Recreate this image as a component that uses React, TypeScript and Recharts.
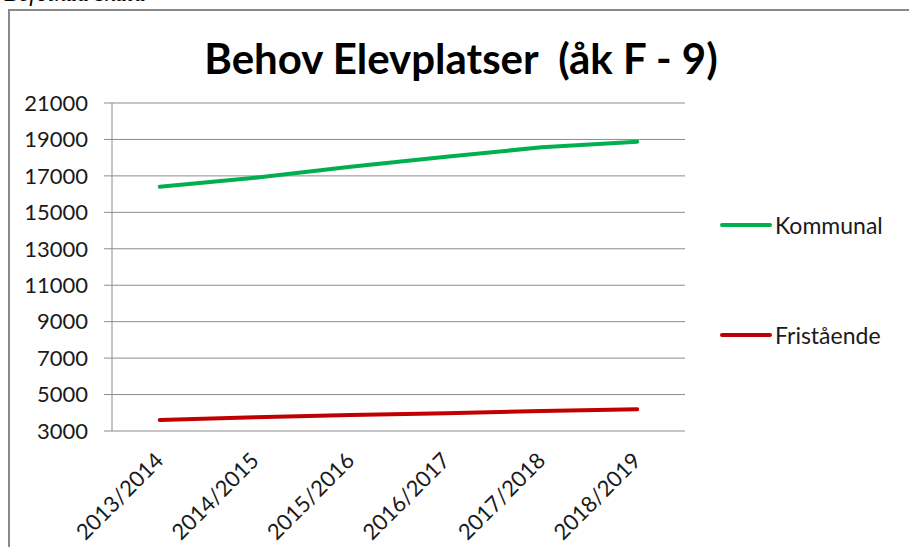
import { LineChart, Line, XAxis, YAxis, CartesianGrid, Legend } from "recharts";

const years = ["2013/2014", "2014/2015", "2015/2016", "2016/2017", "2017/2018", "2018/2019"];
const seriesNames = ["Kommunal", "Fristående"];
const kommunal = [16400, 16900, 17500, 18050, 18570, 18880];
const fristaende = [3600, 3750, 3880, 3980, 4100, 4190];
const yTicks = [3000, 5000, 7000, 9000, 11000, 13000, 15000, 17000, 19000, 21000];
const edgeTicks = [0, 1, 2, 3, 4, 5, 6];

const data = years.map((year, i) => ({
  year,
  Kommunal: kommunal[i],
  Fristående: fristaende[i],
}));

const FONT = "Lato, 'Open Sans', sans-serif";
const GRID = "#8c8c8c";

const YearTick = (props: any) => {
  const { x, y, payload } = props;
  const ax = x + 5;
  const ay = y + 31;
  return (
    <text
      x={ax}
      y={ay}
      transform={`rotate(-45, ${ax}, ${ay})`}
      textAnchor="end"
      fill="#1a1a1a"
      fontSize={22}
      fontFamily={FONT}
    >
      {payload.value}
    </text>
  );
};

const LegendBox = (props: any) => {
  const items = [...(props.payload || [])].sort(
    (a: any, b: any) => seriesNames.indexOf(a.value) - seriesNames.indexOf(b.value)
  );
  return (
    <div>
      {items.map((entry: any) => (
        <div
          key={entry.value}
          style={{ display: "flex", alignItems: "center", height: 30, marginBottom: 80 }}
        >
          <div style={{ width: 52, height: 4, borderRadius: 2, background: entry.color }} />
          <span
            style={{ marginLeft: 3, fontFamily: FONT, fontSize: 23, color: "#1a1a1a", lineHeight: "30px" }}
          >
            {entry.value}
          </span>
        </div>
      ))}
    </div>
  );
};

export default function App() {
  return (
    <div style={{ position: "absolute", left: 0, top: 0, width: 909, height: 547, overflow: "hidden", background: "#fff" }}>
      <div
        style={{
          position: "absolute",
          left: 4,
          top: -20,
          fontFamily: "'Liberation Serif', serif",
          fontStyle: "italic",
          fontSize: 24,
          color: "#000",
          whiteSpace: "pre",
        }}
      >
        Befolkad skala
      </div>
      <div
        style={{
          position: "absolute",
          left: 8,
          top: 9,
          width: 960,
          height: 600,
          border: "2px solid #898989",
          boxSizing: "border-box",
        }}
      />
      <div
        style={{
          position: "absolute",
          left: 0,
          top: 32,
          width: 922,
          textAlign: "center",
          fontFamily: FONT,
          fontWeight: 700,
          fontSize: 42,
          lineHeight: "52px",
          color: "#000",
          whiteSpace: "pre",
        }}
      >
        {"Behov Elevplatser  (åk F - 9)"}
      </div>
      <div style={{ position: "absolute", left: 0, top: 0 }}>
        <LineChart width={909} height={547} data={data} margin={{ top: 103, right: 224, bottom: 0, left: 0 }}>
          <CartesianGrid vertical={false} stroke={GRID} strokeWidth={1} />
          <XAxis
            xAxisId="edge"
            type="number"
            domain={[0, 6]}
            ticks={edgeTicks}
            height={0}
            tick={false}
            tickSize={8}
            stroke={GRID}
            axisLine={{ stroke: GRID }}
            tickLine={{ stroke: GRID }}
          />
          <XAxis
            xAxisId="cat"
            dataKey="year"
            scale="band"
            height={116}
            axisLine={false}
            tickLine={false}
            tickSize={0}
            tickMargin={0}
            interval={0}
            tick={<YearTick />}
          />
          <YAxis
            width={112}
            domain={[3000, 21000]}
            ticks={yTicks}
            interval={0}
            tickSize={8}
            tickMargin={16}
            stroke={GRID}
            tick={{ fill: "#1a1a1a", fontSize: 22, fontFamily: FONT }}
          />
          <Legend
            layout="vertical"
            verticalAlign="middle"
            align="center"
            content={<LegendBox />}
            wrapperStyle={{ left: 720, top: 210, width: 185, height: 150 }}
          />
          <Line
            xAxisId="cat"
            type="linear"
            dataKey="Kommunal"
            stroke="#00b050"
            strokeWidth={4}
            dot={false}
            strokeLinecap="round"
            isAnimationActive={false}
          />
          <Line
            xAxisId="cat"
            type="linear"
            dataKey="Fristående"
            stroke="#c00000"
            strokeWidth={4}
            dot={false}
            strokeLinecap="round"
            isAnimationActive={false}
          />
        </LineChart>
      </div>
    </div>
  );
}
